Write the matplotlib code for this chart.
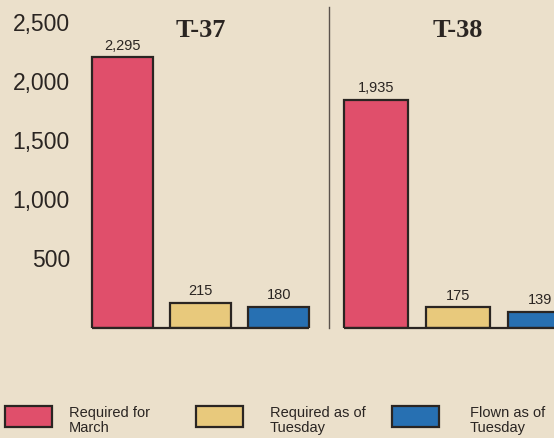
import matplotlib
matplotlib.use("Agg")
import matplotlib.pyplot as plt
import matplotlib.transforms as mtransforms
from matplotlib.patches import Rectangle
from matplotlib.lines import Line2D

# ==== Data ====
planes = ["T-37", "T-38"]
series = ["Required for\nMarch", "Required as of\nTuesday", "Flown as of\nTuesday"]
t37 = [2295, 215, 180]
t38 = [1935, 175, 139]
t37_labels = ["2,295", "215", "180"]
t38_labels = ["1,935", "175", "139"]
yticks = [500, 1000, 1500, 2000, 2500]
ytick_labels = ["500", "1,000", "1,500", "2,000", "2,500"]

colors = ["#e04f6b", "#e8c97c", "#2770b2"]
paper = "#ebe0cb"
ink = "#2a2522"

plt.rcParams["font.family"] = ["Liberation Sans", "DejaVu Sans"]

W, H = 554, 439
fig = plt.figure(figsize=(W / 100, H / 100), dpi=100, facecolor=paper)


def px_axes(x0, y_top, w, h):
    return fig.add_axes([x0 / W, 1 - (y_top + h) / H, w / W, h / H])


def draw_panel(ax, vals, labels, title):
    ax.set_facecolor(paper)
    ax.bar(range(len(vals)), vals, width=0.78, color=colors,
           edgecolor=ink, linewidth=1.6, zorder=3)
    ax.hlines(0, -0.39, len(vals) - 0.61, color=ink, lw=1.6, zorder=4, clip_on=False)
    for i, (v, lab) in enumerate(zip(vals, labels)):
        ax.text(i, v + 45, lab, ha="center", va="bottom", fontsize=10.5, color=ink)
    ax.text(1, 2530, title, ha="center", va="center", fontsize=19,
            fontweight="bold", family="Liberation Serif", color=ink)
    ax.set_xlim(-0.5, 2.5)
    ax.set_ylim(0, 2600)
    for s in ax.spines.values():
        s.set_visible(False)
    ax.set_xticks([])
    ax.set_yticks([])


# ==== Panels ====
ax1 = px_axes(83, 22, 235, 307)
draw_panel(ax1, t37, t37_labels, planes[0])
ax2 = px_axes(335, 22, 246, 307)
draw_panel(ax2, t38, t38_labels, planes[1])

# y labels, nudged up a bit like the print
shift = mtransforms.ScaledTranslation(-13 / 100, 9 / 100, fig.dpi_scale_trans)
for v, lab in zip(yticks, ytick_labels):
    ax1.text(0, v, lab, transform=ax1.get_yaxis_transform() + shift,
             ha="right", va="center", fontsize=16.5, color=ink)

# divider between panels
fig.add_artist(Line2D([329 / W, 329 / W], [1 - 8 / H, 1 - 329 / H], color="#5a524c", lw=1))

# ==== Legend ====
legend_x = [5, 196, 392]
text_x = [69, 270, 470]
for x, tx, c, name in zip(legend_x, text_x, colors, series):
    fig.add_artist(Rectangle((x / W, 1 - 428 / H), 47 / W, 21 / H, transform=fig.transFigure,
                             facecolor=c, edgecolor=ink, lw=1.6))
    fig.text(tx / W, 1 - 406 / H, name, ha="left", va="top", fontsize=10.5,
             color=ink, linespacing=1.1)

fig.savefig("out.png", dpi=100, facecolor=paper)
